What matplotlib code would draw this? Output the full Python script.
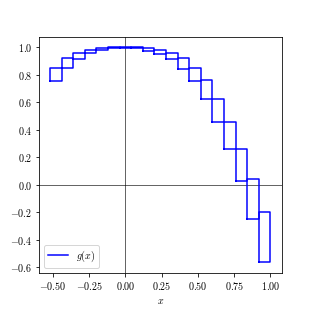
import numpy as np
import matplotlib
matplotlib.use('Agg')
import matplotlib.pyplot as plt

plt.rcParams['font.family'] = 'serif'
plt.rcParams['font.serif'] = ['cmr10']
plt.rcParams['mathtext.fontset'] = 'cm'
plt.rcParams['axes.formatter.use_mathtext'] = True

# interval edges (19 boxes of width 0.08)
x_edges = [-0.52, -0.44, -0.36, -0.28, -0.20, -0.12, -0.04, 0.04, 0.12, 0.20,
           0.28, 0.36, 0.44, 0.52, 0.60, 0.68, 0.76, 0.84, 0.92, 1.00]
# lower / upper value of g on each interval
g_lo = [0.756, 0.849, 0.914, 0.958, 0.982, 0.994, 0.999, 0.995, 0.977, 0.953,
        0.914, 0.844, 0.756, 0.625, 0.460, 0.262, 0.031, -0.250, -0.562]
g_hi = [0.849, 0.921, 0.962, 0.982, 0.994, 1.000, 1.000, 1.000, 0.994, 0.982,
        0.958, 0.921, 0.849, 0.764, 0.625, 0.460, 0.262, 0.041, -0.200]

fig = plt.figure(figsize=(313/72, 313/72), dpi=72)
ax = fig.add_axes([39/313, 40/313, 242.5/313, 236.3/313])

ax.axhline(0, color='k', lw=0.6)
ax.axvline(0, color='k', lw=0.6)

for i in range(len(g_lo)):
    a, b = x_edges[i], x_edges[i+1]
    lo, hi = g_lo[i], g_hi[i]
    ax.plot([a, a, b, b, a], [lo, hi, hi, lo, lo], color='blue', lw=1.5,
            label='$g(x)$' if i == 0 else None)

ax.set_xlabel('$x$')
ax.set_xticks([-0.5, -0.25, 0, 0.25, 0.5, 0.75, 1.0])
ax.legend(loc='lower left')

fig.savefig('out.png', dpi=72)
